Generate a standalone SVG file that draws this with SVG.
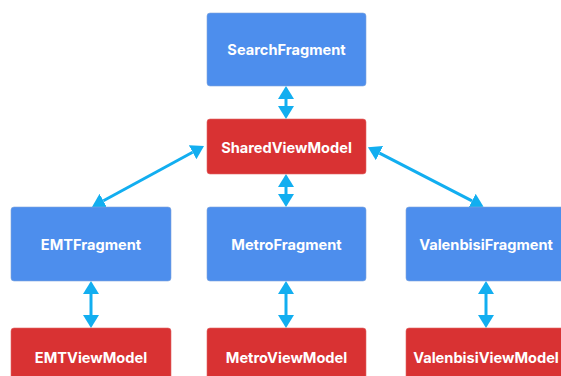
<svg xmlns="http://www.w3.org/2000/svg" width="561" height="376" viewBox="0 0 561 376">
<style>
.frag{fill:#4d8eed;stroke:#7fa6dc;stroke-width:0.6}
.vm{fill:#d93233;stroke:#e06565;stroke-width:0.6}
.lbl{font-family:Inter,"Liberation Sans",sans-serif;font-weight:700;font-size:14.6px;fill:#ffffff;text-anchor:middle}
.conn{stroke:#12aef0;stroke-width:3;fill:none;marker-start:url(#ah);marker-end:url(#ah)}
</style>
<defs>
<marker id="ah" viewBox="0 0 13 16" refX="0" refY="8" markerWidth="13" markerHeight="16" markerUnits="userSpaceOnUse" orient="auto-start-reverse">
<path d="M0,0 L13,8 L0,16 z" fill="#12aef0"/>
</marker>
</defs>
<rect width="561" height="376" fill="#ffffff"/>
<g id="connectors">
<line class="conn" x1="286" y1="99" x2="286" y2="106"/>
<line class="conn" x1="286" y1="187" x2="286" y2="194"/>
<line class="conn" x1="91" y1="294" x2="91" y2="315"/>
<line class="conn" x1="286" y1="294" x2="286" y2="315"/>
<line class="conn" x1="486" y1="294" x2="486" y2="315"/>
<line class="conn" x1="192.6" y1="152.2" x2="103.4" y2="200.8"/>
<line class="conn" x1="379.5" y1="153.1" x2="472" y2="200.9"/>
</g>
<g id="SearchFragment">
<rect class="frag" x="207" y="13" width="159" height="73" rx="3"/>
<text class="lbl" x="286.5" y="55">SearchFragment</text>
</g>
<g id="SharedViewModel">
<rect class="vm" x="207" y="119" width="159" height="55" rx="3"/>
<text class="lbl" x="286.5" y="152.5">SharedViewModel</text>
</g>
<g id="EMTFragment">
<rect class="frag" x="11" y="207" width="160" height="74" rx="3"/>
<text class="lbl" x="91" y="250">EMTFragment</text>
</g>
<g id="MetroFragment">
<rect class="frag" x="207" y="207" width="159" height="74" rx="3"/>
<text class="lbl" x="286.5" y="250">MetroFragment</text>
</g>
<g id="ValenbisiFragment">
<rect class="frag" x="406" y="207" width="160" height="74" rx="3"/>
<text class="lbl" x="486" y="250">ValenbisiFragment</text>
</g>
<g id="EMTViewModel">
<rect class="vm" x="11" y="328" width="160" height="55" rx="3"/>
<text class="lbl" x="91" y="363">EMTViewModel</text>
</g>
<g id="MetroViewModel">
<rect class="vm" x="207" y="328" width="159" height="55" rx="3"/>
<text class="lbl" x="286.5" y="363">MetroViewModel</text>
</g>
<g id="ValenbisiViewModel">
<rect class="vm" x="406" y="328" width="160" height="55" rx="3"/>
<text class="lbl" x="486" y="363">ValenbisiViewModel</text>
</g>
</svg>
